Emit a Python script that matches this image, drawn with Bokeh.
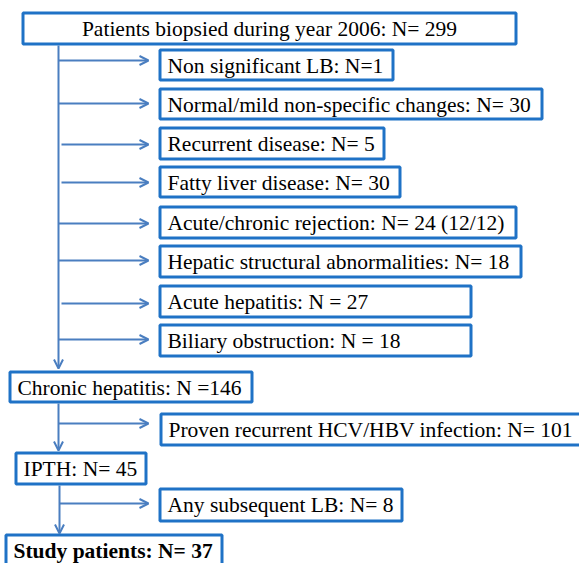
from bokeh.plotting import figure
from bokeh.models import Range1d, Arrow, OpenHead, ColumnDataSource
from bokeh.embed import file_html
from bokeh.resources import INLINE
from bokeh.core.properties import value

# ---- data: the flowchart's boxes (label texts) ----
labels = [
    "Patients biopsied during year 2006: N= 299",
    "Non significant LB:  N=1",
    "Normal/mild non-specific changes: N= 30",
    "Recurrent disease: N= 5",
    "Fatty liver disease: N= 30",
    "Acute/chronic rejection: N= 24 (12/12)",
    "Hepatic structural abnormalities: N= 18",
    "Acute hepatitis: N = 27",
    "Biliary obstruction: N = 18",
    "Chronic hepatitis: N =146",
    "Proven recurrent HCV/HBV  infection: N= 101",
    "IPTH: N= 45",
    "Any subsequent LB: N= 8",
    "Study patients:  N= 37",
]
bold = [False] * 13 + [True]

# ---- layout (reference pixel coordinates) ----
box_left = [21, 158, 158, 158, 158, 158, 158, 158, 158, 8, 159, 14, 158, 4]
box_right = [517, 394, 543, 385, 401, 517, 522, 472, 472, 253, 590, 147, 403, 223]
box_top = [11, 48, 87, 126, 165, 205, 244, 284, 323, 370, 412, 451, 487, 533]
box_bottom = [45, 81, 120, 160, 198, 239, 278, 318, 357, 403, 446, 485, 522, 575]
centered = [True] + [False] * 13

# horizontal side arrows: start x, end x, y
h_x0 = [58, 58, 61, 61, 58, 58, 61, 58, 58, 59]
h_x1 = [148, 148, 148, 148, 148, 148, 148, 148, 148, 148]
h_y = [60, 103, 144, 182, 223, 260, 303, 339, 423, 503]
# vertical main-flow arrows: x, start y, end y
v_x = [58, 58, 59]
v_y0 = [45, 403, 485]
v_y1 = [368, 450, 533]

BOX_COLOR = "#1F72C6"
ARROW_COLOR = "#4A7EC0"
FONT = "Liberation Serif"

W, H = 579, 563
p = figure(width=W, height=H, output_backend="svg", toolbar_location=None,
           x_range=Range1d(0, W), y_range=Range1d(H, 0),
           min_border=0, outline_line_color=None)
p.axis.visible = False
p.grid.visible = False
p.background_fill_color = "white"
p.border_fill_color = "white"

# arrows (drawn first so boxes sit above line ends)
for x, y0, y1 in zip(v_x, v_y0, v_y1):
    p.add_layout(Arrow(x_start=x, y_start=y0, x_end=x, y_end=y1,
                       line_color=ARROW_COLOR, line_width=2,
                       end=OpenHead(size=9, line_width=2, line_color=ARROW_COLOR)))
for x0, x1, y in zip(h_x0, h_x1, h_y):
    p.add_layout(Arrow(x_start=x0, y_start=y, x_end=x1, y_end=y,
                       line_color=ARROW_COLOR, line_width=2,
                       end=OpenHead(size=9, line_width=2, line_color=ARROW_COLOR)))

# boxes
inset = 1.5
src = ColumnDataSource(dict(
    left=[v + inset for v in box_left],
    right=[v - inset for v in box_right],
    top=[v + inset for v in box_top],
    bottom=[v - inset for v in box_bottom],
))
p.quad(left="left", right="right", top="top", bottom="bottom", source=src,
       fill_color="white", line_color=BOX_COLOR, line_width=3)

# texts
for lab, b, c, l, r, t, bt in zip(labels, bold, centered, box_left, box_right,
                                   box_top, box_bottom):
    if c:
        tx, align = (l + r) / 2, "center"
    else:
        tx, align = l + 9, "left"
    mid = (t + min(bt, t + 34)) / 2
    p.text(x=[tx], y=[mid + 0.5], text=[lab], text_font=value(FONT),
           text_font_size="21.5px", text_align=align,
           text_baseline="middle", text_color="black",
           text_font_style="bold" if b else "normal")

open("out.html", "w").write(file_html(p, INLINE))
